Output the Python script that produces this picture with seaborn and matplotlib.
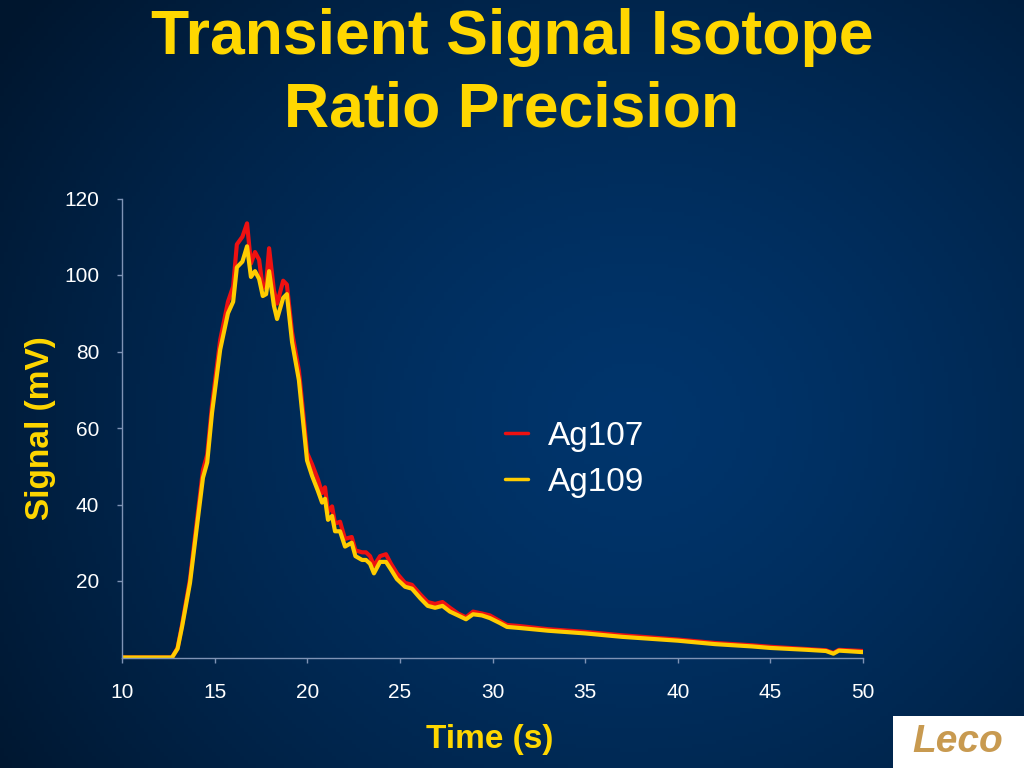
import numpy as np
import pandas as pd
import matplotlib
matplotlib.use("Agg")
import matplotlib.pyplot as plt
from matplotlib.patches import Rectangle
import seaborn as sns

# ---- data ----
time_s = [10.0, 11.0, 12.0, 12.7, 13.0, 13.24, 13.67, 14.05, 14.37, 14.6, 14.86, 15.3, 15.72,
          16.0, 16.2, 16.5, 16.75, 16.96, 17.18, 17.4, 17.6, 17.78, 17.94, 18.2, 18.37,
          18.7, 18.9, 19.18, 19.55, 19.8, 19.99, 20.26, 20.58, 20.8, 20.96, 21.12, 21.34,
          21.5, 21.77, 22.04, 22.4, 22.6, 22.96, 23.17, 23.39, 23.6, 23.93, 24.25, 24.52,
          24.84, 25.28, 25.65, 26.1, 26.5, 26.9, 27.3, 27.7, 28.14, 28.57, 28.95, 29.43,
          29.86, 30.4, 30.78, 31.5, 33.0, 35.0, 37.0, 40.0, 42.0, 44.0, 45.0, 47.0, 48.0,
          48.4, 48.7, 50.0]
ag107 = [0.0, 0.0, 0.0, 0.0, 2.5, 8.5, 20.5, 36.0, 49.0, 53.0, 66.0, 83.0, 93.0,
         97.0, 108.0, 110.0, 113.5, 103.0, 106.0, 104.0, 96.5, 97.5, 107.0, 96.0, 92.5,
         98.5, 97.5, 85.0, 75.0, 63.0, 53.5, 50.5, 46.5, 43.0, 44.5, 38.0, 39.5,
         35.0, 35.5, 31.0, 31.5, 28.0, 27.5, 27.5, 26.5, 24.0, 26.5, 27.0, 24.5,
         22.0, 19.5, 19.0, 16.5, 14.5, 14.0, 14.5, 13.0, 11.5, 10.5, 12.0, 11.5,
         11.0, 9.5, 8.5, 8.2, 7.4, 6.7, 5.8, 4.7, 3.8, 3.2, 2.8, 2.2, 1.9,
         1.2, 2.0, 1.7]
ag109 = [0.0, 0.0, 0.0, 0.0, 2.3, 8.0, 19.5, 34.5, 47.0, 51.0, 64.0, 80.5, 90.0,
         93.0, 102.0, 103.5, 107.5, 99.5, 101.0, 99.0, 94.5, 95.0, 101.0, 92.0, 88.5,
         94.0, 95.0, 82.5, 72.5, 60.5, 51.5, 47.5, 43.5, 40.5, 41.5, 36.0, 37.0,
         33.0, 33.0, 29.0, 30.0, 26.5, 25.5, 25.5, 24.5, 22.0, 25.0, 25.0, 23.0,
         20.5, 18.5, 18.0, 15.5, 13.5, 13.0, 13.5, 12.0, 11.0, 10.0, 11.3, 11.0,
         10.3, 9.0, 8.0, 7.7, 7.0, 6.3, 5.4, 4.4, 3.5, 2.9, 2.5, 2.0, 1.7,
         1.0, 1.8, 1.4]
series_names = ["Ag107", "Ag109"]
x_ticks = [10, 15, 20, 25, 30, 35, 40, 45, 50]
y_ticks = [20, 40, 60, 80, 100, 120]

df = pd.concat([
    pd.DataFrame({"Time": time_s, "Signal": ag107, "Isotope": series_names[0]}),
    pd.DataFrame({"Time": time_s, "Signal": ag109, "Isotope": series_names[1]}),
], ignore_index=True)

# ---- styling ----
sns.set_style("ticks")
plt.rcParams["font.family"] = ["Liberation Sans", "DejaVu Sans"]
YEL = "#FFD700"
fig = plt.figure(figsize=(10.24, 7.68), dpi=100)

# background gradient
bg = fig.add_axes([0, 0, 1, 1], zorder=-10)
W, H = 256, 192
xx, yy = np.meshgrid(np.linspace(0, 1, W), np.linspace(0, 1, H))
d = np.sqrt(((xx - 0.62) / 0.75) ** 2 + ((yy - 0.55) / 0.9) ** 2)
t = np.clip(d, 0, 1) ** 1.4
c_in = np.array([0x00, 0x35, 0x6c]) / 255
c_out = np.array([0x00, 0x16, 0x2e]) / 255
img = c_in[None, None, :] * (1 - t[..., None]) + c_out[None, None, :] * t[..., None]
bg.imshow(img, aspect="auto", extent=[0, 1, 0, 1], origin="upper")
bg.set_axis_off()

ax = fig.add_axes([122 / 1024, 1 - 657.5 / 768, (863 - 122) / 1024, (657.5 - 198.5) / 768])
ax.patch.set_alpha(0)
sns.lineplot(data=df, x="Time", y="Signal", hue="Isotope", hue_order=series_names,
             palette={"Ag107": "#EE1111", "Ag109": "#FFCC00"}, linewidth=3.0,
             ax=ax, legend=True, sort=False)

ax.set_xlim(10, 50)
ax.set_ylim(0, 120)
ax.set_xticks(x_ticks)
ax.set_yticks(y_ticks)
spine_c = "#7f93b5"
for s in ["top", "right"]:
    ax.spines[s].set_visible(False)
for s in ["left", "bottom"]:
    ax.spines[s].set_color(spine_c)
    ax.spines[s].set_linewidth(1.0)
ax.tick_params(axis="both", colors=spine_c, labelcolor="white", labelsize=15, length=3.5, width=1.0)
ax.tick_params(axis="x", pad=15)
ax.tick_params(axis="y", pad=13)

ax.set_xlabel("Time (s)", color=YEL, fontsize=24, fontweight="bold")
ax.set_ylabel("Signal (mV)", color=YEL, fontsize=24, fontweight="bold")
ax.xaxis.set_label_coords(0.4966, (657.5 - 724) / 459)
ax.yaxis.set_label_coords((56 - 122) / 741, 0.5)

leg = ax.legend(loc="center left", bbox_to_anchor=(475 / 1024, 1 - 459 / 768),
                bbox_transform=fig.transFigure, frameon=False, fontsize=24,
                handlelength=0.7, handletextpad=0.6, labelspacing=0.45, borderpad=0.4)
for txt in leg.get_texts():
    txt.set_color("white")
for ln in leg.get_lines():
    ln.set_linewidth(2.5)

fig.text(0.5, 1 - 74 / 768, "Transient Signal Isotope\nRatio Precision", ha="center", va="center",
         color=YEL, fontsize=45, fontweight="bold", linespacing=1.29)

# logo block
fig.patches.append(Rectangle((893 / 1024, 0), 131 / 1024, 52 / 768, transform=fig.transFigure,
                             facecolor="white", edgecolor="none", zorder=5))
fig.text(958 / 1024, 26 / 768, "Leco", ha="center", va="center", color="#c89a50",
         fontsize=28, fontweight="bold", fontstyle="italic", zorder=6)

fig.savefig("out.png", dpi=100)
